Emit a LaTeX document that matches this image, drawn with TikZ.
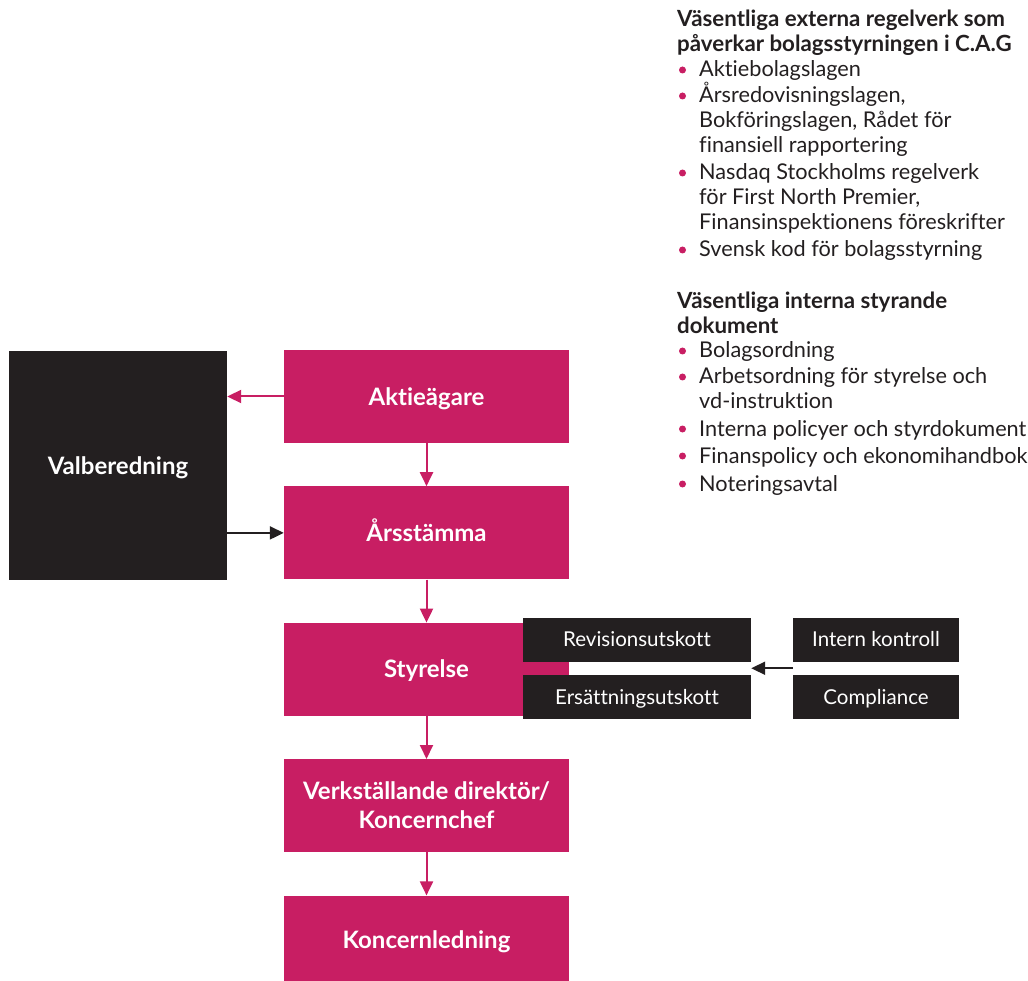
\documentclass[tikz,border=0pt]{standalone}
\usepackage{fontspec}
\setmainfont{Lato}[Ligatures=NoCommon]
\usetikzlibrary{arrows.meta,positioning,calc}

\definecolor{cagpink}{RGB}{200,30,99}
\definecolor{cagdark}{RGB}{35,31,32}

\tikzset{
  pinkbox/.style={fill=cagpink, text=white, inner sep=0pt, align=center,
    minimum width=285pt, minimum height=93pt, text height=17.2pt, text depth=0pt,
    font=\bfseries\fontsize{24}{29}\selectfont},
  darkbox/.style={fill=cagdark, text=white, inner sep=0pt,
    minimum width=228pt, minimum height=44pt, text height=14.7pt, text depth=0pt,
    font=\fontsize{20.5}{22}\selectfont},
  pinkarrow/.style={draw=cagpink, line width=2pt, -{Triangle[length=14pt,width=13pt]}},
  darkarrow/.style={draw=cagdark, line width=2pt, -{Triangle[length=14pt,width=13pt]}},
  listhead/.style={anchor=base west, inner sep=0pt, text width=350pt, align=flush left,
    text=cagdark, font=\bfseries\fontsize{22.3}{25}\selectfont},
  listitem/.style={anchor=base west, inner sep=0pt, text width=340pt, align=flush left,
    text=cagdark, font=\fontsize{21.7}{25}\selectfont},
}

% item with a pink dot in front of it
\newcommand{\dotitem}[3]{%
  \node[listitem] (#1) at (699,#2) {#3};
  \fill[cagpink] ([shift={(-16.5,-7)}]#1.base west) circle (3.5);}

\begin{document}
\begin{tikzpicture}[x=1pt,y=-1pt]
  \useasboundingbox (0,0) rectangle (1028,981);

  %%%%% main column %%%%%
  \node[pinkbox] (aktie) at (426.5,396.5) {Aktieägare};
  \node[pinkbox, below=43pt of aktie] (stamma) {Årsstämma};
  \node[pinkbox, below=43pt of stamma] (styr) {Styrelse};
  \node[pinkbox, below=43pt of styr, text height=46.2pt] (vd) {Verkställande direktör/\\Koncernchef};
  \node[pinkbox, below=43pt of vd, minimum height=89pt] (ledning) {Koncernledning};

  \node[pinkbox, fill=cagdark, minimum width=218pt, minimum height=229pt] (valb) at (118,465.5) {Valberedning};

  \draw[pinkarrow] (aktie) -- (stamma);
  \draw[pinkarrow] (stamma) -- (styr);
  \draw[pinkarrow] (styr) -- (vd);
  \draw[pinkarrow] (vd) -- (ledning);
  \draw[pinkarrow] (aktie.west) -- (aktie.west -| valb.east);
  \draw[darkarrow] (stamma.west -| valb.east) -- (stamma.west);

  %%%%% committees %%%%%
  \node[darkbox] (revision) at (637,639.5) {Revisionsutskott};
  \node[darkbox] (ersatt) at (637,697) {Ersättningsutskott};
  \node[darkbox, minimum width=166pt] (intern) at (876,639.5) {Intern kontroll};
  \node[darkbox, minimum width=166pt] (compl) at (876,697) {Compliance};

  \coordinate (kontroll) at ($(intern.south west)!0.5!(compl.north west)$);
  \draw[darkarrow] (kontroll) -- (kontroll -| revision.east);

  %%%%% external rules %%%%%
  \node[listhead] (exthead) at (677,27) {Väsentliga externa regelverk som\\påverkar bolagsstyrningen i C.A.G};
  \dotitem{ext1}{77}{Aktiebolagslagen}
  \dotitem{ext2}{103}{Årsredovisningslagen,\\Bokföringslagen, Rådet för\\finansiell rapportering}
  \dotitem{ext3}{180}{Nasdaq Stockholms regelverk\\för First North Premier,\\Finansinspektionens föreskrifter}
  \dotitem{ext4}{257}{Svensk kod för bolagsstyrning}

  %%%%% internal documents %%%%%
  \node[listhead] (inthead) at (677,309) {Väsentliga interna styrande\\dokument};
  \dotitem{int1}{358}{Bolagsordning}
  \dotitem{int2}{384}{Arbetsordning för styrelse och\\vd-instruktion}
  \dotitem{int3}{436}{Interna policyer och styrdokument}
  \dotitem{int4}{463}{Finanspolicy och ekonomihandbok}
  \dotitem{int5}{491}{Noteringsavtal}
\end{tikzpicture}
\end{document}
